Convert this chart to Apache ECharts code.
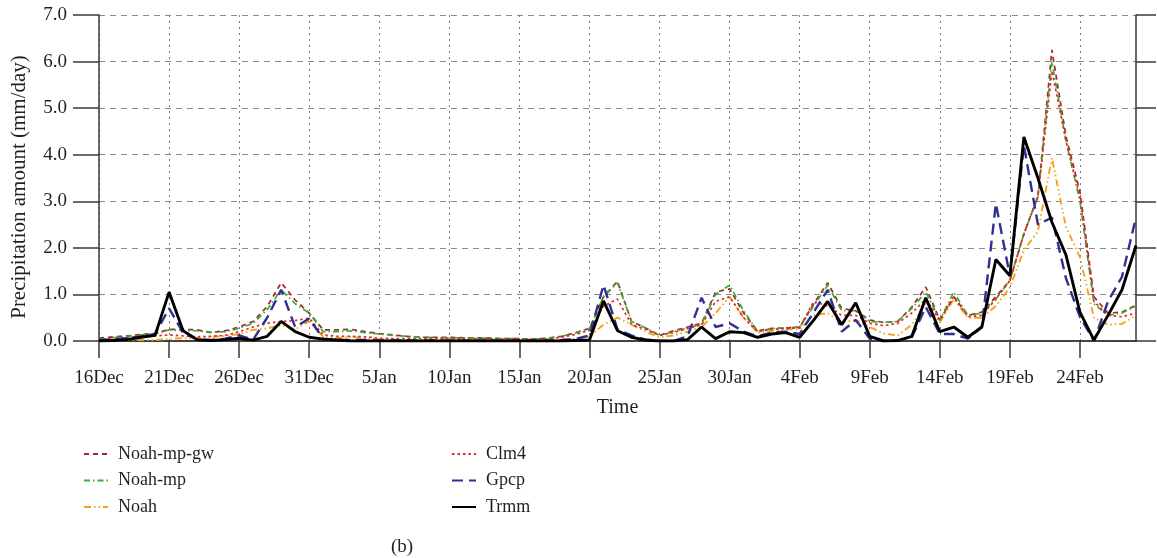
<!DOCTYPE html>
<html><head><meta charset="utf-8">
<script src="https://cdn.jsdelivr.net/npm/echarts@6/dist/echarts.min.js"></script>
<style>html,body{margin:0;padding:0;background:#fff}#c{width:1157px;height:558px}</style>
</head><body><div id="c"></div>
<script>
// Daily dates 16 Dec .. 28 Feb
const monthSpans = [['Dec', 16, 31], ['Jan', 1, 31], ['Feb', 1, 28]];
const categories = [];
monthSpans.forEach(([m, a, b]) => { for (let d = a; d <= b; d++) categories.push(d + m); });
const tickLabels = ['16Dec','21Dec','26Dec','31Dec','5Jan','10Jan','15Jan','20Jan','25Jan','30Jan','4Feb','9Feb','14Feb','19Feb','24Feb'];
const yTicks = [0, 1, 2, 3, 4, 5, 6, 7];

const noahMpGw = [0.06,0.09,0.11,0.14,0.16,0.25,0.25,0.24,0.18,0.22,0.3,0.42,0.74,1.25,0.88,0.6,0.24,0.24,0.25,0.2,0.16,
  0.13,0.1,0.08,0.08,0.08,0.07,0.07,0.06,0.05,0.05,0.04,0.06,0.1,0.18,
  0.27,0.95,1.28,0.42,0.28,0.12,0.22,0.3,0.38,1.05,1.12,0.6,0.22,0.27,0.28,0.3,
  0.8,1.25,0.7,0.65,0.45,0.4,0.42,0.73,1.16,0.45,0.95,0.55,0.62,0.95,1.3,
  2.3,3.1,6.25,4.4,3.2,0.95,0.6,0.62,0.77];
const noahMp = [0.04,0.07,0.1,0.13,0.15,0.24,0.22,0.22,0.19,0.2,0.27,0.38,0.67,1.1,0.8,0.6,0.2,0.2,0.22,0.18,0.15,
  0.12,0.1,0.08,0.07,0.07,0.07,0.06,0.06,0.05,0.05,0.04,0.06,0.1,0.17,
  0.27,0.95,1.25,0.42,0.28,0.12,0.2,0.28,0.36,1.0,1.2,0.65,0.2,0.27,0.28,0.3,
  0.75,1.2,0.65,0.65,0.42,0.4,0.42,0.7,1.05,0.45,1.05,0.55,0.6,0.9,1.3,
  2.3,3.1,6.0,4.3,3.0,0.8,0.55,0.6,0.75];
const noah = [0.02,0.03,0.03,0.02,0.02,0.05,0.06,0.06,0.09,0.11,0.15,0.24,0.27,0.34,0.25,0.42,0.09,0.06,0.09,0.06,0.04,
  0.03,0.02,0.02,0.03,0.04,0.04,0.04,0.03,0.03,0.02,0.02,0.02,0.03,0.05,
  0.1,0.35,0.5,0.35,0.2,0.08,0.12,0.2,0.3,0.6,0.95,0.5,0.18,0.22,0.25,0.25,
  0.55,0.6,0.4,0.45,0.3,0.16,0.12,0.35,0.8,0.4,0.9,0.5,0.5,0.75,1.15,
  1.95,2.35,3.93,2.45,1.8,0.5,0.35,0.37,0.55];
const clm4 = [0.02,0.04,0.07,0.09,0.11,0.13,0.11,0.09,0.1,0.12,0.2,0.3,0.38,0.42,0.44,0.49,0.13,0.1,0.1,0.09,0.06,
  0.05,0.05,0.05,0.06,0.06,0.05,0.05,0.04,0.04,0.04,0.03,0.04,0.08,0.14,
  0.23,0.75,0.9,0.35,0.25,0.12,0.18,0.27,0.35,0.85,0.95,0.5,0.2,0.25,0.27,0.28,
  0.85,0.75,0.55,0.55,0.38,0.33,0.38,0.6,0.9,0.45,0.95,0.52,0.55,0.9,1.3,
  2.3,3.1,5.8,4.3,3.1,0.85,0.55,0.52,0.6];
const gpcp = [0.02,0.04,0.06,0.1,0.15,0.7,0.18,0.03,0.02,0.05,0.12,0.03,0.5,1.1,0.3,0.48,0.05,0.02,0.02,0.02,0.01,
  0.01,0.01,0.01,0.01,0.01,0.01,0.01,0.01,0.01,0.01,0.01,0.01,0.02,0.04,
  0.12,1.2,0.25,0.12,0.03,0.0,0.0,0.1,0.93,0.3,0.38,0.2,0.1,0.18,0.2,0.15,
  0.62,1.1,0.2,0.45,0.05,0.0,0.01,0.08,0.73,0.15,0.15,0.05,0.3,2.95,1.4,
  4.2,2.5,2.65,1.35,0.52,0.0,0.85,1.38,2.66];
const trmm = [0.0,0.01,0.03,0.08,0.12,1.05,0.22,0.03,0.01,0.03,0.06,0.02,0.1,0.42,0.2,0.08,0.04,0.02,0.0,0.0,0.0,
  0,0,0,0,0,0,0,0,0,0,0,0,0,0.01,
  0.02,0.86,0.22,0.08,0.02,0.0,0.0,0.03,0.3,0.05,0.2,0.18,0.08,0.15,0.18,0.08,
  0.45,0.85,0.35,0.82,0.1,0.0,0.01,0.1,0.93,0.2,0.3,0.08,0.3,1.75,1.4,
  4.38,3.5,2.55,1.85,0.62,0.02,0.55,1.1,2.05];

const FONT = 'Liberation Serif';
const TXT = '#231f20';
const AX = '#3a3a3a';

function line(name, data, color, width, type, z) {
  return { name, type: 'line', data, symbol: 'none', z,
    lineStyle: { color, width, type }, itemStyle: { color }, emphasis: { disabled: true } };
}

const legendBase = {
  orient: 'vertical', top: 440, itemWidth: 24, itemHeight: 14, itemGap: 8.5,
  itemStyle: { opacity: 0 },
  textStyle: { fontFamily: FONT, fontSize: 18, color: TXT, padding: [0, 0, 0, 5] }
};

const chart = echarts.init(document.getElementById('c'), null, { renderer: 'canvas' });
chart.setOption({
  animation: false,
  backgroundColor: '#fff',
  textStyle: { fontFamily: FONT, color: TXT },
  grid: { left: 99, top: 15, width: 1037, height: 326 },
  title: { text: '(b)', left: 386, top: 533, textStyle: { fontFamily: FONT, fontSize: 19, fontWeight: 'normal', color: TXT } },
  legend: [
    Object.assign({ data: ['Noah-mp-gw', 'Noah-mp', 'Noah'], left: 78 }, legendBase),
    Object.assign({ data: ['Clm4', 'Gpcp', 'Trmm'], left: 446 }, legendBase)
  ],
  xAxis: [
    { type: 'category', data: categories, boundaryGap: false,
      name: 'Time', nameLocation: 'middle', nameGap: 57,
      nameTextStyle: { fontFamily: FONT, fontSize: 20, color: TXT },
      axisLine: { lineStyle: { color: AX, width: 1.5 } },
      axisTick: { show: true, interval: 4, length: 17, lineStyle: { color: AX, width: 1.5 } },
      axisLabel: { interval: 4, margin: 28, fontFamily: FONT, fontSize: 19, color: TXT,
        formatter: (v, i) => tickLabels[i / 5] },
      splitLine: { show: true, interval: 4, lineStyle: { color: '#7a7a7a', width: 1, type: [2, 4] } } },
    { type: 'category', data: categories, boundaryGap: false, position: 'top',
      axisLine: { lineStyle: { color: AX, width: 1.5 } },
      axisTick: { show: false }, axisLabel: { show: false }, splitLine: { show: false } }
  ],
  yAxis: [
    { type: 'value', min: 0, max: 7, interval: 1,
      name: 'Precipitation amount (mm/day)', nameLocation: 'middle', nameGap: 69,
      nameTextStyle: { fontFamily: FONT, fontSize: 21, color: TXT, padding: [0, 18, 0, 0] },
      axisLine: { show: true, lineStyle: { color: AX, width: 1.5 } },
      axisTick: { show: true, length: 26, lineStyle: { color: AX, width: 1.5 } },
      axisLabel: { margin: 32, fontFamily: FONT, fontSize: 19, color: TXT,
        formatter: v => yTicks.includes(v) ? v.toFixed(1) : '' },
      splitLine: { show: true, lineStyle: { color: '#8a8a8a', width: 1, type: [6, 5] } } },
    { type: 'value', min: 0, max: 7, interval: 1, position: 'right',
      axisLine: { show: true, lineStyle: { color: AX, width: 1.5 } },
      axisTick: { show: true, length: 20, lineStyle: { color: AX, width: 1.5 } },
      axisLabel: { show: false }, splitLine: { show: false } }
  ],
  series: [
    line('Noah-mp-gw', noahMpGw, '#a3262e', 1.7, [5, 4], 3),
    line('Noah-mp', noahMp, '#2fb332', 1.7, [6, 3, 1.5, 3], 4),
    line('Noah', noah, '#f7a21b', 1.9, [7, 3, 1.5, 3, 1.5, 3], 2),
    line('Clm4', clm4, '#e8252a', 1.7, [2.5, 3], 5),
    line('Gpcp', gpcp, '#2e3192', 2.4, [11, 6], 6),
    line('Trmm', trmm, '#000000', 2.9, 'solid', 7)
  ]
});
</script>
</body></html>
